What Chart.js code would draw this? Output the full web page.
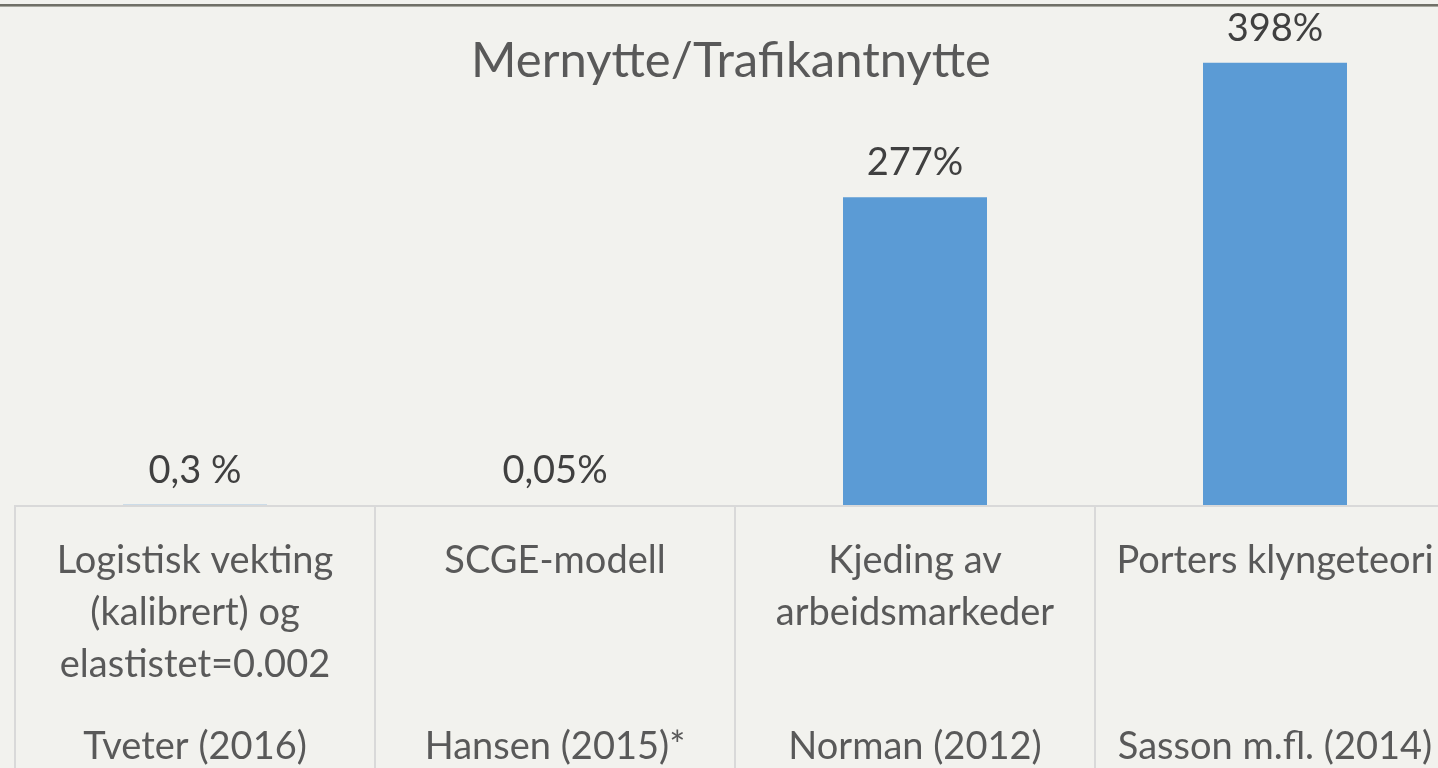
<!DOCTYPE html>
<html>
<head>
<meta charset="utf-8">
<script src="https://cdn.jsdelivr.net/npm/chart.js@4.4.0/dist/chart.umd.min.js"></script>
<style>
  html, body { margin: 0; padding: 0; overflow: hidden; background: #f2f2ee; }
  #wrap { width: 1470px; height: 768px; }
</style>
</head>
<body>
<div id="wrap"><canvas id="myChart" width="1470" height="768"></canvas></div>
<script>
// chart data
const methods = [
  ['Logistisk vekting', '(kalibrert) og', 'elastistet=0.002'],
  ['SCGE-modell'],
  ['Kjeding av', 'arbeidsmarkeder'],
  ['Porters klyngeteori']
];
const authors = ['Tveter (2016)', 'Hansen (2015)*', 'Norman (2012)', 'Sasson m.fl. (2014)'];
const values = [0.3, 0.05, 277, 398];
const valueLabels = ['0,3 %', '0,05%', '277%', '398%'];
const chartTitle = 'Mernytte/Trafikantnytte';

const FONT = 'Lato, "Open Sans", sans-serif';

// draws background, title, data labels and the table under the bars
const tablePlugin = {
  id: 'tablePlugin',
  beforeDraw(chart) {
    const ctx = chart.ctx;
    ctx.save();
    ctx.fillStyle = '#f2f2ee';
    ctx.fillRect(0, 0, chart.width, chart.height);
    // top frame line
    ctx.fillStyle = '#707068';
    ctx.fillRect(0, 4, chart.width, 2);
    ctx.fillStyle = '#a8a8a0';
    ctx.fillRect(0, 6, chart.width, 1);
    ctx.restore();
  },
  afterDatasetsDraw(chart) {
    const ctx = chart.ctx;
    const area = chart.chartArea;
    const xs = chart.scales.x;
    const meta = chart.getDatasetMeta(0);
    const step = xs.getPixelForValue(1) - xs.getPixelForValue(0);
    ctx.save();

    // title
    ctx.fillStyle = '#595959';
    ctx.font = '49px ' + FONT;
    ctx.textAlign = 'center';
    ctx.textBaseline = 'alphabetic';
    ctx.fillText(chartTitle, 731, 77);

    // value labels above bars
    ctx.fillStyle = '#404040';
    ctx.font = '38px ' + FONT;
    meta.data.forEach((bar, i) => {
      ctx.fillText(valueLabels[i], bar.x, bar.y - 22);
    });

    // table grid
    ctx.strokeStyle = '#d9d9d9';
    ctx.lineWidth = 2;
    ctx.beginPath();
    ctx.moveTo(area.left, area.bottom + 1);
    ctx.lineTo(chart.width, area.bottom + 1);
    for (let i = 0; i < values.length; i++) {
      const x = Math.round(xs.getPixelForValue(i) - step / 2);
      ctx.moveTo(x, area.bottom);
      ctx.lineTo(x, chart.height);
    }
    ctx.stroke();

    // table text
    ctx.fillStyle = '#595959';
    ctx.font = '38px ' + FONT;
    methods.forEach((lines, i) => {
      const x = xs.getPixelForValue(i);
      lines.forEach((line, j) => {
        ctx.fillText(line, x, 573 + j * 52);
      });
      ctx.fillText(authors[i], x, 759);
    });
    ctx.restore();
  }
};

const data = {
  labels: authors,
  datasets: [{
    label: chartTitle,
    data: values,
    backgroundColor: '#5b9bd5',
    borderWidth: 0,
    categoryPercentage: 1,
    barPercentage: 0.4
  }]
};

const config = {
  type: 'bar',
  data: data,
  options: {
    responsive: false,
    devicePixelRatio: 1,
    animation: false,
    layout: { padding: { top: 5, left: 15, right: 15, bottom: 263 } },
    plugins: {
      legend: { display: false },
      title: { display: false },
      tooltip: { enabled: false }
    },
    scales: {
      x: { display: false },
      y: { display: false, min: 0, max: 450 }
    }
  },
  plugins: [tablePlugin]
};

const myChart = new Chart(document.getElementById('myChart'), config);
</script>
</body>
</html>
